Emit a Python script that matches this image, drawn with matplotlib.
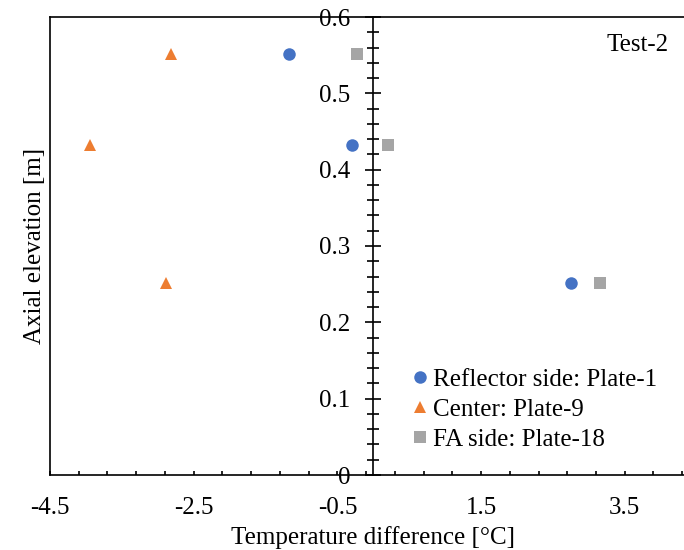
import numpy as np
import matplotlib.pyplot as plt
from matplotlib.ticker import MultipleLocator, FixedLocator

plt.rcParams['font.family'] = ['Liberation Serif', 'DejaVu Serif']
plt.rcParams['axes.unicode_minus'] = False

# axial elevation of the measurement points [m]
elev = [0.552, 0.432, 0.252]
# temperature difference [C] per plate
reflector = [-1.17, -0.29, 2.75]
center = [-2.81, -3.95, -2.89]
fa_side = [-0.22, 0.20, 3.16]

labels = ['Reflector side: Plate-1', 'Center: Plate-9', 'FA side: Plate-18']
colors = ['#4472C4', '#ED7D31', '#A5A5A5']
markers = ['o', '^', 's']

xticks = [-4.5, -2.5, -0.5, 1.5, 3.5]
xtick_labels = ['-4.5', '-2.5', '-0.5', '1.5', '3.5']
yticks = [0, 0.1, 0.2, 0.3, 0.4, 0.5, 0.6]
ytick_labels = ['0', '0.1', '0.2', '0.3', '0.4', '0.5', '0.6']

fs = 18
lw = 1.2

fig = plt.figure(figsize=(6.84, 5.5), dpi=100)
ax = fig.add_axes([50/684, 75/550, 646.6/684, 458/550])

for xs, lab, c, m in zip([reflector, center, fa_side], labels, colors, markers):
    ms = 9 if m != 's' else 8.5
    ax.plot(xs, elev, linestyle='none', marker=m, color=c, markersize=ms,
            markeredgewidth=0, label=lab, zorder=3)

ax.set_xlim(-4.5, 4.5)
ax.set_ylim(0, 0.6)

# y axis crosses at x = 0, plot-area border on the left
ax.spines['left'].set_position(('data', 0))
for s in ['left', 'bottom', 'top', 'right']:
    ax.spines[s].set_linewidth(lw)
ax.axvline(-4.5, color='black', lw=lw, clip_on=False)

ax.xaxis.set_major_locator(FixedLocator(xticks))
ax.set_xticklabels(xtick_labels)
ax.xaxis.set_minor_locator(MultipleLocator(0.4, offset=-4.5))
ax.yaxis.set_major_locator(FixedLocator(yticks))
ax.set_yticklabels(ytick_labels)
ax.yaxis.set_minor_locator(MultipleLocator(0.02))

ax.tick_params(axis='x', which='both', direction='in', length=3, width=lw,
               labelsize=fs, pad=16, top=False)
ax.tick_params(axis='y', which='major', direction='inout', length=11.5, width=lw,
               labelsize=fs, pad=10.5, right=False)
ax.tick_params(axis='y', which='minor', direction='inout', length=8.5, width=lw,
               right=False)

ax.set_xlabel('Temperature difference [°C]', fontsize=fs, va='center')
ax.xaxis.set_label_coords(0.5, (475 - 538) / 458)
ax.set_ylabel('Axial elevation [m]', fontsize=fs, va='center')
ax.yaxis.set_label_coords((35 - 50) / 646.6, 0.5)

ax.text(0.957, 0.939, 'Test-2', transform=ax.transAxes, ha='right', va='center',
        fontsize=fs)

ax.legend(loc='upper left', bbox_to_anchor=(0.561, 0.232), frameon=False,
          fontsize=fs, handlelength=0.55, handletextpad=0.25, labelspacing=0.3,
          borderpad=0, borderaxespad=0, numpoints=1)

fig.savefig('out.png', dpi=100)
